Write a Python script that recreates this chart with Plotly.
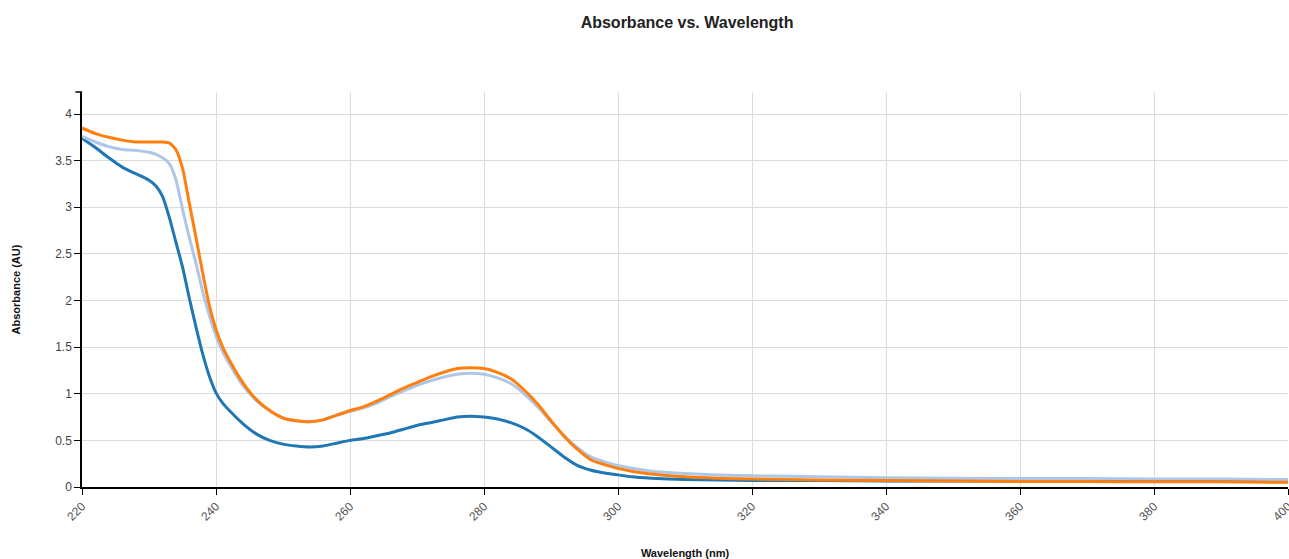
import plotly.graph_objects as go

wavelength = [220, 222, 224, 226, 228, 230, 231, 232, 233, 234, 235, 236, 237, 238, 239,
              240, 241, 242, 244, 246, 248, 250, 252, 254, 256, 258, 260, 262, 264, 266, 268,
              270, 272, 274, 276, 278, 280, 282, 284, 286, 288, 290, 292, 294, 296, 298,
              300, 302, 305, 310, 315, 320, 330, 340, 350, 360, 370, 380, 390, 400]

series_blue = [3.74, 3.64, 3.53, 3.43, 3.36, 3.29, 3.23, 3.12, 2.90, 2.63, 2.36, 2.03, 1.72, 1.43, 1.19,
               1.01, 0.90, 0.82, 0.68, 0.57, 0.50, 0.46, 0.44, 0.43, 0.44, 0.47, 0.50, 0.52, 0.55, 0.58, 0.62,
               0.66, 0.69, 0.72, 0.75, 0.76, 0.75, 0.73, 0.69, 0.63, 0.54, 0.43, 0.32, 0.23, 0.18, 0.15,
               0.13, 0.11, 0.095, 0.08, 0.075, 0.07, 0.07, 0.065, 0.065, 0.065, 0.06, 0.06, 0.06, 0.06]

series_lightblue = [3.76, 3.70, 3.65, 3.62, 3.61, 3.59, 3.57, 3.53, 3.47, 3.30, 2.98, 2.68, 2.40, 2.10, 1.84,
                    1.62, 1.45, 1.32, 1.09, 0.93, 0.82, 0.74, 0.71, 0.70, 0.72, 0.77, 0.81, 0.85, 0.90, 0.97, 1.03,
                    1.09, 1.14, 1.18, 1.21, 1.22, 1.21, 1.17, 1.11, 1.00, 0.86, 0.70, 0.55, 0.42, 0.32, 0.27,
                    0.23, 0.20, 0.17, 0.145, 0.13, 0.12, 0.11, 0.10, 0.095, 0.09, 0.09, 0.085, 0.085, 0.08]

series_orange = [3.85, 3.79, 3.75, 3.72, 3.70, 3.70, 3.70, 3.70, 3.69, 3.62, 3.42, 3.05, 2.68, 2.30, 1.95,
                 1.69, 1.50, 1.36, 1.12, 0.94, 0.82, 0.74, 0.71, 0.70, 0.72, 0.77, 0.82, 0.86, 0.92, 0.99, 1.06,
                 1.12, 1.18, 1.23, 1.27, 1.28, 1.27, 1.23, 1.16, 1.04, 0.89, 0.71, 0.54, 0.40, 0.29, 0.24,
                 0.20, 0.17, 0.14, 0.11, 0.095, 0.085, 0.075, 0.07, 0.065, 0.06, 0.06, 0.055, 0.055, 0.05]

x_ticks = [220, 240, 260, 280, 300, 320, 340, 360, 380, 400]
y_ticks = [0, 0.5, 1, 1.5, 2, 2.5, 3, 3.5, 4]
y_tick_labels = ["0", "0.5", "1", "1.5", "2", "2.5", "3", "3.5", "4"]

fig = go.Figure()
for ys, color in [(series_blue, "#1f77b4"), (series_lightblue, "#aec7e8"), (series_orange, "#ff7f0e")]:
    fig.add_trace(go.Scatter(x=wavelength, y=ys, mode="lines",
                             line=dict(color=color, width=3, shape="spline", smoothing=0.6),
                             showlegend=False, hoverinfo="x+y"))

font_family = "Arial, Liberation Sans, Helvetica, sans-serif"
fig.update_layout(
    width=1289, height=559,
    margin=dict(l=82, r=1, t=92, b=72),
    paper_bgcolor="white", plot_bgcolor="white",
    font=dict(family=font_family, size=12, color="#444"),
    title=dict(text="<b>Absorbance vs. Wavelength</b>", x=0.533, xanchor="center",
               y=0.96, yanchor="middle", font=dict(size=16, color="#222")),
    showlegend=False,
)
fig.update_xaxes(
    range=[220, 400], tickvals=x_ticks, ticktext=[str(t) for t in x_ticks],
    tickangle=-45, ticks="outside", ticklen=6, tickcolor="black",
    showline=True, linecolor="black", linewidth=1.5,
    showgrid=True, gridcolor="#dcdcdc", gridwidth=1, zeroline=False,
    automargin=False, ticklabeloverflow="allow",
    title=dict(text="<b>Wavelength (nm)</b>", font=dict(size=11, color="#111"), standoff=28),
    tickfont=dict(size=12, color="#555"),
)
fig.update_yaxes(
    range=[0, 4.236], tickvals=y_ticks, ticktext=y_tick_labels,
    ticks="outside", ticklen=6, tickcolor="black",
    showline=True, linecolor="black", linewidth=1.5,
    showgrid=True, gridcolor="#dcdcdc", gridwidth=1, zeroline=False,
    automargin=False,
    title=dict(text="<b>Absorbance (AU)</b>", font=dict(size=11, color="#111"), standoff=32),
    tickfont=dict(size=12, color="#444"),
)
# outer tick at top of y axis (d3 style domain end)
fig.add_shape(type="line", xref="x domain", yref="y domain", x0=-0.0055, x1=0, y0=1, y1=1,
              line=dict(color="black", width=1.5))

fig.write_html("out.html", config={"displayModeBar": False},
               post_script="document.body.style.margin='0';")
